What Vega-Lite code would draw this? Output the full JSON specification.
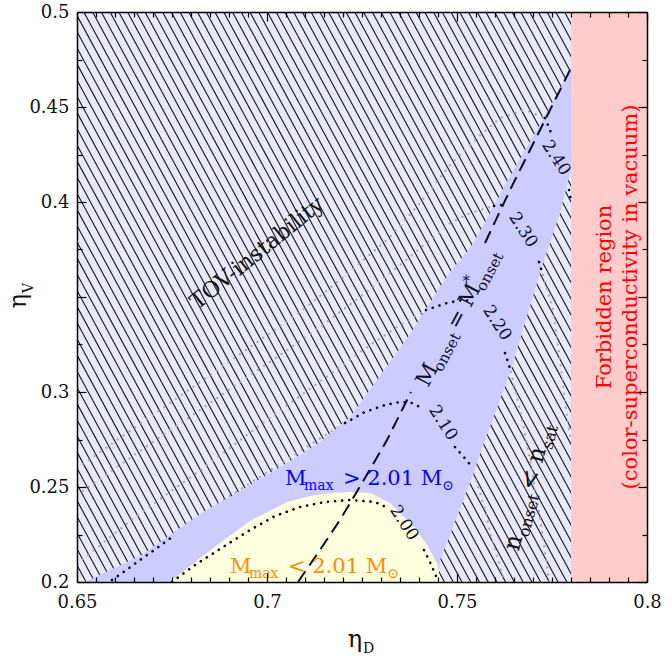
{
"$schema": "https://vega.github.io/schema/vega-lite/v6.json",
"width": 570, "height": 570,
"autosize": {"type": "none"},
"padding": {"left": 77, "top": 12, "right": 25, "bottom": 74},
"background": "white",
"config": {"view": {"fill": "#e9e9fb", "stroke": null}, "font": "DejaVu Serif"},
"resolve": {"axis": {"x": "independent", "y": "independent"}},
"layer": [
{"data": {"values": [
{"a":0.5690,"b":0.6501},{"a":0.5713,"b":0.6524},{"a":0.5736,"b":0.6547},{"a":0.5759,"b":0.6570},{"a":0.5782,"b":0.6593},{"a":0.5805,"b":0.6616},{"a":0.5828,"b":0.6639},{"a":0.5851,"b":0.6662},{"a":0.5874,"b":0.6685},{"a":0.5897,"b":0.6708},
{"a":0.5920,"b":0.6731},{"a":0.5943,"b":0.6754},{"a":0.5966,"b":0.6777},{"a":0.5989,"b":0.6800},{"a":0.6012,"b":0.6823},{"a":0.6035,"b":0.6846},{"a":0.6058,"b":0.6869},{"a":0.6081,"b":0.6892},{"a":0.6104,"b":0.6915},{"a":0.6127,"b":0.6938},
{"a":0.6150,"b":0.6961},{"a":0.6173,"b":0.6984},{"a":0.6196,"b":0.7007},{"a":0.6219,"b":0.7030},{"a":0.6242,"b":0.7053},{"a":0.6265,"b":0.7076},{"a":0.6288,"b":0.7099},{"a":0.6311,"b":0.7122},{"a":0.6334,"b":0.7145},{"a":0.6357,"b":0.7168},
{"a":0.6380,"b":0.7191},{"a":0.6403,"b":0.7214},{"a":0.6426,"b":0.7237},{"a":0.6449,"b":0.7260},{"a":0.6472,"b":0.7283},{"a":0.6495,"b":0.7306},{"a":0.6518,"b":0.7329},{"a":0.6541,"b":0.7352},{"a":0.6564,"b":0.7375},{"a":0.6587,"b":0.7398},
{"a":0.6610,"b":0.7421},{"a":0.6633,"b":0.7444},{"a":0.6656,"b":0.7467},{"a":0.6679,"b":0.7490},{"a":0.6702,"b":0.7513},{"a":0.6725,"b":0.7536},{"a":0.6748,"b":0.7559},{"a":0.6771,"b":0.7582},{"a":0.6794,"b":0.7605},{"a":0.6817,"b":0.7628},
{"a":0.6840,"b":0.7651},{"a":0.6863,"b":0.7674},{"a":0.6886,"b":0.7697},{"a":0.6909,"b":0.7720},{"a":0.6932,"b":0.7743},{"a":0.6955,"b":0.7766},{"a":0.6978,"b":0.7789},{"a":0.7001,"b":0.7812},{"a":0.7024,"b":0.7835},{"a":0.7047,"b":0.7858},
{"a":0.7070,"b":0.7881},{"a":0.7093,"b":0.7904},{"a":0.7116,"b":0.7927},{"a":0.7139,"b":0.7950},{"a":0.7162,"b":0.7973},{"a":0.7185,"b":0.7996},{"a":0.7208,"b":0.8019},{"a":0.7231,"b":0.8042},{"a":0.7254,"b":0.8065},{"a":0.7277,"b":0.8088},
{"a":0.7300,"b":0.8111},{"a":0.7323,"b":0.8134},{"a":0.7346,"b":0.8157},{"a":0.7369,"b":0.8180},{"a":0.7392,"b":0.8203},{"a":0.7415,"b":0.8226},{"a":0.7438,"b":0.8249},{"a":0.7461,"b":0.8272},{"a":0.7484,"b":0.8295},{"a":0.7507,"b":0.8318},
{"a":0.7530,"b":0.8341},{"a":0.7553,"b":0.8364},{"a":0.7576,"b":0.8387},{"a":0.7599,"b":0.8410},{"a":0.7622,"b":0.8433},{"a":0.7645,"b":0.8456},{"a":0.7668,"b":0.8479},{"a":0.7691,"b":0.8502},{"a":0.7714,"b":0.8525},{"a":0.7737,"b":0.8548},
{"a":0.7760,"b":0.8571},{"a":0.7783,"b":0.8594},{"a":0.7806,"b":0.8617}
]},
 "mark": {"type": "rule", "color": "#151515", "strokeWidth": 1.1, "clip": true},
 "encoding": {
  "x": {"field": "a", "type": "quantitative", "scale": {"domain": [0.65, 0.8], "nice": false, "zero": false}, "axis": null},
  "x2": {"field": "b"},
  "y": {"datum": 0.5, "type": "quantitative", "scale": {"domain": [0.2, 0.5], "nice": false, "zero": false}, "axis": null},
  "y2": {"datum": 0.2}
 }
},
{"data": {"values": [
{"c":"g10L","x":0.675,"y":0.22368},{"c":"g10L","x":0.68763,"y":0.24211},{"c":"g10L","x":0.69816,"y":0.25526},{"c":"g10L","x":0.70868,"y":0.26895},{"c":"g10L","x":0.72053,"y":0.28368},
{"c":"g10R","x":0.75395,"y":0.26053},{"c":"g10R","x":0.75526,"y":0.25211},{"c":"g10R","x":0.75737,"y":0.23789},{"c":"g10R","x":0.75921,"y":0.22211},{"c":"g10R","x":0.76184,"y":0.20474},{"c":"g10R","x":0.76263,"y":0.2},
{"c":"g20L","x":0.74184,"y":0.34316},{"c":"g20L","x":0.735,"y":0.33526},{"c":"g20L","x":0.72711,"y":0.32474},{"c":"g20L","x":0.71921,"y":0.31316},{"c":"g20L","x":0.70868,"y":0.29789},{"c":"g20L","x":0.69816,"y":0.28263},{"c":"g20L","x":0.685,"y":0.26263},{"c":"g20L","x":0.67447,"y":0.24737},{"c":"g20L","x":0.66395,"y":0.23211},{"c":"g20L","x":0.65132,"y":0.21158},{"c":"g20L","x":0.65,"y":0.20947},
{"c":"g20R","x":0.76421,"y":0.31053},{"c":"g20R","x":0.76658,"y":0.29053},{"c":"g20R","x":0.76921,"y":0.26421},{"c":"g20R","x":0.77105,"y":0.24316},{"c":"g20R","x":0.77263,"y":0.22368},{"c":"g20R","x":0.77421,"y":0.2},
{"c":"g30L","x":0.75974,"y":0.39789},{"c":"g30L","x":0.75342,"y":0.39421},{"c":"g30L","x":0.74816,"y":0.38895},{"c":"g30L","x":0.74289,"y":0.38},{"c":"g30L","x":0.735,"y":0.36684},{"c":"g30L","x":0.72447,"y":0.35},{"c":"g30L","x":0.71395,"y":0.33421},{"c":"g30L","x":0.70342,"y":0.31947},{"c":"g30L","x":0.69289,"y":0.30526},{"c":"g30L","x":0.68237,"y":0.29053},{"c":"g30L","x":0.67184,"y":0.27632},{"c":"g30L","x":0.66132,"y":0.26158},{"c":"g30L","x":0.65,"y":0.24579},
{"c":"g30R","x":0.77263,"y":0.36158},{"c":"g30R","x":0.77526,"y":0.34316},{"c":"g30R","x":0.77711,"y":0.31684},{"c":"g30R","x":0.77868,"y":0.29053},{"c":"g30R","x":0.78,"y":0.27474},
{"c":"g40L","x":0.77316,"y":0.44421},{"c":"g40L","x":0.76789,"y":0.44842},{"c":"g40L","x":0.76132,"y":0.44421},{"c":"g40L","x":0.75474,"y":0.43263},{"c":"g40L","x":0.74816,"y":0.41947},{"c":"g40L","x":0.74026,"y":0.39947},{"c":"g40L","x":0.73237,"y":0.38158},{"c":"g40L","x":0.72184,"y":0.36316},{"c":"g40L","x":0.70868,"y":0.34211},{"c":"g40L","x":0.69553,"y":0.32368},{"c":"g40L","x":0.68237,"y":0.30526},{"c":"g40L","x":0.66921,"y":0.28684},{"c":"g40L","x":0.65605,"y":0.26842},{"c":"g40L","x":0.65,"y":0.26}
]},
 "mark": {"type": "line", "color": "#a3a3b5", "strokeWidth": 2.2, "strokeDash": [0.1, 7], "strokeCap": "round", "clip": true},
 "encoding": {
  "x": {"field": "x", "type": "quantitative", "scale": {"domain": [0.65, 0.8], "nice": false, "zero": false},
    "axis": {"orient": "top", "values": [0.65,0.655,0.66,0.665,0.67,0.675,0.68,0.685,0.69,0.695,0.7,0.705,0.71,0.715,0.72,0.725,0.73,0.735,0.74,0.745,0.75,0.755,0.76,0.765,0.77,0.775,0.78,0.785,0.79,0.795,0.8],
      "labels": false, "title": null, "grid": false, "zindex": 1, "domain": true, "domainColor": "#000", "domainWidth": 1.5, "tickColor": "#000", "tickWidth": 1.2,
      "tickSize": {"condition": {"test": "abs(datum.value*20 - round(datum.value*20)) < 0.001", "value": -9}, "value": -5}}},
  "y": {"field": "y", "type": "quantitative", "scale": {"domain": [0.2, 0.5], "nice": false, "zero": false},
    "axis": {"orient": "right", "values": [0.2,0.225,0.25,0.275,0.3,0.325,0.35,0.375,0.4,0.425,0.45,0.475,0.5],
      "labels": false, "title": null, "grid": false, "zindex": 1, "domain": true, "domainColor": "#000", "domainWidth": 1.5, "tickColor": "#000", "tickWidth": 1.2,
      "tickSize": {"condition": {"test": "abs(datum.value*20 - round(datum.value*20)) < 0.001", "value": -9}, "value": -5}}},
  "detail": {"field": "c"}
 }
},
{"data": {"values": [
{"x":0.65211,"top":0.2,"bot":0.2},{"x":0.65868,"top":0.20632,"bot":0.2},{"x":0.66658,"top":0.21368,"bot":0.2},{"x":0.67447,"top":0.22474,"bot":0.2},{"x":0.68237,"top":0.23579,"bot":0.2},{"x":0.69026,"top":0.24474,"bot":0.2},{"x":0.69816,"top":0.25421,"bot":0.2},{"x":0.70605,"top":0.26368,"bot":0.2},{"x":0.71395,"top":0.27368,"bot":0.2},{"x":0.72184,"top":0.28684,"bot":0.2},{"x":0.72974,"top":0.30842,"bot":0.2},{"x":0.73763,"top":0.33053,"bot":0.2},{"x":0.745,"top":0.35368,"bot":0.2},{"x":0.74553,"top":0.35526,"bot":0.21158},{"x":0.74816,"top":0.36316,"bot":0.22474},{"x":0.75342,"top":0.37579,"bot":0.25211},{"x":0.75737,"top":0.38947,"bot":0.27474},{"x":0.76395,"top":0.41368,"bot":0.31},{"x":0.77184,"top":0.44105,"bot":0.36263},{"x":0.77711,"top":0.45947,"bot":0.39421},{"x":0.78,"top":0.47053,"bot":0.41684}
]},
 "mark": {"type": "area", "color": "#ccccff", "opacity": 1, "clip": true},
 "encoding": {
  "x": {"field": "x", "type": "quantitative", "scale": {"domain": [0.65, 0.8], "nice": false, "zero": false},
    "axis": {"orient": "bottom", "values": [0.65,0.655,0.66,0.665,0.67,0.675,0.68,0.685,0.69,0.695,0.7,0.705,0.71,0.715,0.72,0.725,0.73,0.735,0.74,0.745,0.75,0.755,0.76,0.765,0.77,0.775,0.78,0.785,0.79,0.795,0.8],
      "format": "~g", "labelExpr": "abs(datum.value*20 - round(datum.value*20)) < 0.001 ? datum.label : ''",
      "labelFont": "DejaVu Serif", "labelFontSize": 18, "labelColor": "#111", "labelPadding": 20, "labelFlush": false, "labelOverlap": false, "labelBaseline": "top",
      "title": null, "grid": false, "zindex": 1, "domain": true, "domainColor": "#000", "domainWidth": 1.5, "tickColor": "#000", "tickWidth": 1.2,
      "tickSize": {"condition": {"test": "abs(datum.value*20 - round(datum.value*20)) < 0.001", "value": -9}, "value": -5}}},
  "y": {"field": "top", "type": "quantitative", "scale": {"domain": [0.2, 0.5], "nice": false, "zero": false},
    "axis": {"orient": "left", "values": [0.2,0.225,0.25,0.275,0.3,0.325,0.35,0.375,0.4,0.425,0.45,0.475,0.5],
      "format": "~g", "labelExpr": "abs(datum.value*20 - round(datum.value*20)) < 0.001 && abs(datum.value - 0.35) > 0.001 ? datum.label : ''",
      "labelFont": "DejaVu Serif", "labelFontSize": 18, "labelColor": "#111", "labelPadding": 17, "labelFlush": false, "labelOverlap": false,
      "title": null, "grid": false, "zindex": 1, "domain": true, "domainColor": "#000", "domainWidth": 1.5, "tickColor": "#000", "tickWidth": 1.2,
      "tickSize": {"condition": {"test": "abs(datum.value*20 - round(datum.value*20)) < 0.001", "value": -9}, "value": -5}}},
  "y2": {"field": "bot"}
 }
},
{"data": {"values": [
{"x":0.67447,"top":0.2},{"x":0.67711,"top":0.20421},{"x":0.68237,"top":0.21263},{"x":0.68763,"top":0.22053},{"x":0.69553,"top":0.23211},{"x":0.70526,"top":0.24211},{"x":0.71132,"top":0.24526},{"x":0.71658,"top":0.24684},{"x":0.72184,"top":0.24737},{"x":0.72711,"top":0.24684},{"x":0.73237,"top":0.24158},{"x":0.735,"top":0.23632},{"x":0.73895,"top":0.22842},{"x":0.74211,"top":0.21947},{"x":0.74474,"top":0.21},{"x":0.74579,"top":0.2}
]},
 "mark": {"type": "area", "color": "#ffffe0", "opacity": 1, "clip": true},
 "encoding": {
  "x": {"field": "x", "type": "quantitative", "scale": {"domain": [0.65, 0.8], "nice": false, "zero": false}, "axis": null},
  "y": {"field": "top", "type": "quantitative", "scale": {"domain": [0.2, 0.5], "nice": false, "zero": false}, "axis": null},
  "y2": {"datum": 0.2}
 }
},
{"data": {"values": [{"x1": 0.78, "x2": 0.8, "y1": 0.2, "y2": 0.5}]},
 "mark": {"type": "rect", "color": "#ffcccc", "opacity": 1, "clip": true},
 "encoding": {
  "x": {"field": "x1", "type": "quantitative", "scale": {"domain": [0.65, 0.8], "nice": false, "zero": false}, "axis": null},
  "x2": {"field": "x2"},
  "y": {"field": "y1", "type": "quantitative", "scale": {"domain": [0.2, 0.5], "nice": false, "zero": false}, "axis": null},
  "y2": {"field": "y2"}
 }
},
{"data": {"values": [
{"c":"b00a","x":0.675,"y":0.2},{"c":"b00a","x":0.68105,"y":0.20895},{"c":"b00a","x":0.68763,"y":0.21737},{"c":"b00a","x":0.69553,"y":0.22737},{"c":"b00a","x":0.70211,"y":0.23474},{"c":"b00a","x":0.70868,"y":0.23947},{"c":"b00a","x":0.71526,"y":0.24211},{"c":"b00a","x":0.72184,"y":0.24316},{"c":"b00a","x":0.72842,"y":0.24211},{"c":"b00a","x":0.73184,"y":0.23895},
{"c":"b00b","x":0.74132,"y":0.21684},{"c":"b00b","x":0.74289,"y":0.21053},{"c":"b00b","x":0.74447,"y":0.20316},{"c":"b00b","x":0.745,"y":0.2},
{"c":"b10a","x":0.65921,"y":0.20105},{"c":"b10a","x":0.66263,"y":0.20579},{"c":"b10a","x":0.66658,"y":0.21158},{"c":"b10a","x":0.67105,"y":0.21789},{"c":"b10a","x":0.675,"y":0.22368},
{"c":"b10b","x":0.72053,"y":0.28368},{"c":"b10b","x":0.72579,"y":0.28947},{"c":"b10b","x":0.73105,"y":0.29316},{"c":"b10b","x":0.735,"y":0.29474},{"c":"b10b","x":0.73816,"y":0.29421},{"c":"b10b","x":0.74026,"y":0.29211},
{"c":"b10c","x":0.74947,"y":0.27105},{"c":"b10c","x":0.75158,"y":0.26632},{"c":"b10c","x":0.75395,"y":0.26053},
{"c":"b20a","x":0.74184,"y":0.34316},{"c":"b20a","x":0.74421,"y":0.34474},{"c":"b20a","x":0.74737,"y":0.34684},{"c":"b20a","x":0.75158,"y":0.34842},{"c":"b20a","x":0.75395,"y":0.34789},
{"c":"b20b","x":0.76263,"y":0.32053},{"c":"b20b","x":0.76342,"y":0.31579},{"c":"b20b","x":0.76421,"y":0.31053},
{"c":"b30a","x":0.75974,"y":0.39789},{"c":"b30a","x":0.76184,"y":0.39842},
{"c":"b30b","x":0.77158,"y":0.36842},{"c":"b30b","x":0.77263,"y":0.36158},
{"c":"b40a","x":0.77316,"y":0.44421},{"c":"b40a","x":0.77395,"y":0.44053},{"c":"b40a","x":0.77474,"y":0.43632},
{"c":"b40b","x":0.77947,"y":0.40632},{"c":"b40b","x":0.78,"y":0.40105}
]},
 "mark": {"type": "line", "color": "#05051e", "strokeWidth": 2.6, "strokeDash": [0.1, 7], "strokeCap": "round", "clip": true},
 "encoding": {
  "x": {"field": "x", "type": "quantitative", "scale": {"domain": [0.65, 0.8], "nice": false, "zero": false}, "axis": null},
  "y": {"field": "y", "type": "quantitative", "scale": {"domain": [0.2, 0.5], "nice": false, "zero": false}, "axis": null},
  "detail": {"field": "c"}
 }
},
{"data": {"values": [
{"s":"a","x":0.70816,"y":0.2},{"s":"a","x":0.71395,"y":0.21684},{"s":"a","x":0.71921,"y":0.23263},{"s":"a","x":0.72579,"y":0.25474},{"s":"a","x":0.73158,"y":0.27474},{"s":"a","x":0.73789,"y":0.3},
{"s":"b","x":0.75737,"y":0.37842},{"s":"b","x":0.76395,"y":0.40632},{"s":"b","x":0.77184,"y":0.43789},{"s":"b","x":0.78,"y":0.4705}
]},
 "mark": {"type": "line", "color": "#0a0a25", "strokeWidth": 2, "strokeDash": [13, 7], "clip": true},
 "encoding": {
  "x": {"field": "x", "type": "quantitative", "scale": {"domain": [0.65, 0.8], "nice": false, "zero": false}, "axis": null},
  "y": {"field": "y", "type": "quantitative", "scale": {"domain": [0.2, 0.5], "nice": false, "zero": false}, "axis": null},
  "detail": {"field": "s"}
 }
},
{"data": {"values": [
{"t":"2.00","x":0.73605,"y":0.23105},{"t":"2.10","x":0.74632,"y":0.28368},{"t":"2.20","x":0.76053,"y":0.33632},{"t":"2.30","x":0.76737,"y":0.38526},{"t":"2.40","x":0.77605,"y":0.42316}
]},
 "mark": {"type": "text", "font": "DejaVu Serif", "fontSize": 17, "angle": 57, "align": "center", "baseline": "middle", "color": "#0d0d2b"},
 "encoding": {
  "x": {"field": "x", "type": "quantitative", "scale": {"domain": [0.65, 0.8], "nice": false, "zero": false}, "axis": null},
  "y": {"field": "y", "type": "quantitative", "scale": {"domain": [0.2, 0.5], "nice": false, "zero": false}, "axis": null},
  "text": {"field": "t"}
 }
},
{"data": {"values": [{"t":"TOV-instability","x":0.69737,"y":0.37316}]},
 "mark": {"type": "text", "font": "DejaVu Serif", "fontSize": 22, "angle": 321, "align": "center", "baseline": "middle", "color": "#111"},
 "encoding": {
  "x": {"field": "x", "type": "quantitative", "scale": {"domain": [0.65, 0.8], "nice": false, "zero": false}, "axis": null},
  "y": {"field": "y", "type": "quantitative", "scale": {"domain": [0.2, 0.5], "nice": false, "zero": false}, "axis": null},
  "text": {"field": "t"}
 }
},
{"data": {"values": [{"t":"M","x":0.70474,"y":0.25105}]},
 "mark": {"type": "text", "font": "DejaVu Serif", "fontSize": 21, "align": "left", "baseline": "alphabetic", "color": "#0000ff"},
 "encoding": {"x": {"field": "x", "type": "quantitative", "scale": {"domain": [0.65, 0.8], "nice": false, "zero": false}, "axis": null}, "y": {"field": "y", "type": "quantitative", "scale": {"domain": [0.2, 0.5], "nice": false, "zero": false}, "axis": null}, "text": {"field": "t"}}
},
{"data": {"values": [{"t":"max","x":0.70474,"y":0.25105}]},
 "mark": {"type": "text", "font": "DejaVu Serif", "fontSize": 14, "align": "left", "baseline": "alphabetic", "color": "#0000ff", "dx": 19, "dy": 5},
 "encoding": {"x": {"field": "x", "type": "quantitative", "scale": {"domain": [0.65, 0.8], "nice": false, "zero": false}, "axis": null}, "y": {"field": "y", "type": "quantitative", "scale": {"domain": [0.2, 0.5], "nice": false, "zero": false}, "axis": null}, "text": {"field": "t"}}
},
{"data": {"values": [{"t":"> 2.01 M","x":0.70474,"y":0.25105}]},
 "mark": {"type": "text", "font": "DejaVu Serif", "fontSize": 21, "align": "left", "baseline": "alphabetic", "color": "#0000ff", "dx": 58},
 "encoding": {"x": {"field": "x", "type": "quantitative", "scale": {"domain": [0.65, 0.8], "nice": false, "zero": false}, "axis": null}, "y": {"field": "y", "type": "quantitative", "scale": {"domain": [0.2, 0.5], "nice": false, "zero": false}, "axis": null}, "text": {"field": "t"}}
},
{"data": {"values": [{"t":"⊙","x":0.70474,"y":0.25105}]},
 "mark": {"type": "text", "font": "DejaVu Serif", "fontSize": 14, "align": "left", "baseline": "alphabetic", "color": "#0000ff", "dx": 157, "dy": 5},
 "encoding": {"x": {"field": "x", "type": "quantitative", "scale": {"domain": [0.65, 0.8], "nice": false, "zero": false}, "axis": null}, "y": {"field": "y", "type": "quantitative", "scale": {"domain": [0.2, 0.5], "nice": false, "zero": false}, "axis": null}, "text": {"field": "t"}}
},
{"data": {"values": [{"t":"M","x":0.69026,"y":0.20474}]},
 "mark": {"type": "text", "font": "DejaVu Serif", "fontSize": 21, "align": "left", "baseline": "alphabetic", "color": "#ff8c00"},
 "encoding": {"x": {"field": "x", "type": "quantitative", "scale": {"domain": [0.65, 0.8], "nice": false, "zero": false}, "axis": null}, "y": {"field": "y", "type": "quantitative", "scale": {"domain": [0.2, 0.5], "nice": false, "zero": false}, "axis": null}, "text": {"field": "t"}}
},
{"data": {"values": [{"t":"max","x":0.69026,"y":0.20474}]},
 "mark": {"type": "text", "font": "DejaVu Serif", "fontSize": 14, "align": "left", "baseline": "alphabetic", "color": "#ff8c00", "dx": 19, "dy": 5},
 "encoding": {"x": {"field": "x", "type": "quantitative", "scale": {"domain": [0.65, 0.8], "nice": false, "zero": false}, "axis": null}, "y": {"field": "y", "type": "quantitative", "scale": {"domain": [0.2, 0.5], "nice": false, "zero": false}, "axis": null}, "text": {"field": "t"}}
},
{"data": {"values": [{"t":"< 2.01 M","x":0.69026,"y":0.20474}]},
 "mark": {"type": "text", "font": "DejaVu Serif", "fontSize": 21, "align": "left", "baseline": "alphabetic", "color": "#ff8c00", "dx": 58},
 "encoding": {"x": {"field": "x", "type": "quantitative", "scale": {"domain": [0.65, 0.8], "nice": false, "zero": false}, "axis": null}, "y": {"field": "y", "type": "quantitative", "scale": {"domain": [0.2, 0.5], "nice": false, "zero": false}, "axis": null}, "text": {"field": "t"}}
},
{"data": {"values": [{"t":"⊙","x":0.69026,"y":0.20474}]},
 "mark": {"type": "text", "font": "DejaVu Serif", "fontSize": 14, "align": "left", "baseline": "alphabetic", "color": "#ff8c00", "dx": 157, "dy": 5},
 "encoding": {"x": {"field": "x", "type": "quantitative", "scale": {"domain": [0.65, 0.8], "nice": false, "zero": false}, "axis": null}, "y": {"field": "y", "type": "quantitative", "scale": {"domain": [0.2, 0.5], "nice": false, "zero": false}, "axis": null}, "text": {"field": "t"}}
},
{"data": {"values": [{"t":"M","x":0.74237,"y":0.30211}]},
 "mark": {"type": "text", "font": "DejaVu Serif", "fontSize": 22, "angle": 298, "align": "left", "baseline": "alphabetic", "color": "#0d0d2b"},
 "encoding": {"x": {"field": "x", "type": "quantitative", "scale": {"domain": [0.65, 0.8], "nice": false, "zero": false}, "axis": null}, "y": {"field": "y", "type": "quantitative", "scale": {"domain": [0.2, 0.5], "nice": false, "zero": false}, "axis": null}, "text": {"field": "t"}}
},
{"data": {"values": [{"t":"onset","x":0.74237,"y":0.30211}]},
 "mark": {"type": "text", "font": "DejaVu Serif", "fontSize": 15, "angle": 298, "align": "left", "baseline": "alphabetic", "color": "#0d0d2b", "dx": 20, "dy": 5},
 "encoding": {"x": {"field": "x", "type": "quantitative", "scale": {"domain": [0.65, 0.8], "nice": false, "zero": false}, "axis": null}, "y": {"field": "y", "type": "quantitative", "scale": {"domain": [0.2, 0.5], "nice": false, "zero": false}, "axis": null}, "text": {"field": "t"}}
},
{"data": {"values": [{"t":"= M","x":0.74237,"y":0.30211}]},
 "mark": {"type": "text", "font": "DejaVu Serif", "fontSize": 22, "angle": 298, "align": "left", "baseline": "alphabetic", "color": "#0d0d2b", "dx": 65},
 "encoding": {"x": {"field": "x", "type": "quantitative", "scale": {"domain": [0.65, 0.8], "nice": false, "zero": false}, "axis": null}, "y": {"field": "y", "type": "quantitative", "scale": {"domain": [0.2, 0.5], "nice": false, "zero": false}, "axis": null}, "text": {"field": "t"}}
},
{"data": {"values": [{"t":"*","x":0.74237,"y":0.30211}]},
 "mark": {"type": "text", "font": "DejaVu Serif", "fontSize": 15, "angle": 298, "align": "left", "baseline": "alphabetic", "color": "#0d0d2b", "dx": 111, "dy": -10},
 "encoding": {"x": {"field": "x", "type": "quantitative", "scale": {"domain": [0.65, 0.8], "nice": false, "zero": false}, "axis": null}, "y": {"field": "y", "type": "quantitative", "scale": {"domain": [0.2, 0.5], "nice": false, "zero": false}, "axis": null}, "text": {"field": "t"}}
},
{"data": {"values": [{"t":"onset","x":0.74237,"y":0.30211}]},
 "mark": {"type": "text", "font": "DejaVu Serif", "fontSize": 15, "angle": 298, "align": "left", "baseline": "alphabetic", "color": "#0d0d2b", "dx": 111, "dy": 5},
 "encoding": {"x": {"field": "x", "type": "quantitative", "scale": {"domain": [0.65, 0.8], "nice": false, "zero": false}, "axis": null}, "y": {"field": "y", "type": "quantitative", "scale": {"domain": [0.2, 0.5], "nice": false, "zero": false}, "axis": null}, "text": {"field": "t"}}
},
{"data": {"values": [{"t":"n","x":0.76616,"y":0.21579}]},
 "mark": {"type": "text", "font": "DejaVu Serif", "fontSize": 24, "angle": 285, "align": "left", "baseline": "alphabetic", "color": "#111"},
 "encoding": {"x": {"field": "x", "type": "quantitative", "scale": {"domain": [0.65, 0.8], "nice": false, "zero": false}, "axis": null}, "y": {"field": "y", "type": "quantitative", "scale": {"domain": [0.2, 0.5], "nice": false, "zero": false}, "axis": null}, "text": {"field": "t"}}
},
{"data": {"values": [{"t":"onset","x":0.76616,"y":0.21579}]},
 "mark": {"type": "text", "font": "DejaVu Serif", "fontSize": 16, "angle": 285, "align": "left", "baseline": "alphabetic", "color": "#111", "dx": 16, "dy": 6},
 "encoding": {"x": {"field": "x", "type": "quantitative", "scale": {"domain": [0.65, 0.8], "nice": false, "zero": false}, "axis": null}, "y": {"field": "y", "type": "quantitative", "scale": {"domain": [0.2, 0.5], "nice": false, "zero": false}, "axis": null}, "text": {"field": "t"}}
},
{"data": {"values": [{"t":"< n","x":0.76616,"y":0.21579}]},
 "mark": {"type": "text", "font": "DejaVu Serif", "fontSize": 24, "angle": 285, "align": "left", "baseline": "alphabetic", "color": "#111", "dx": 63},
 "encoding": {"x": {"field": "x", "type": "quantitative", "scale": {"domain": [0.65, 0.8], "nice": false, "zero": false}, "axis": null}, "y": {"field": "y", "type": "quantitative", "scale": {"domain": [0.2, 0.5], "nice": false, "zero": false}, "axis": null}, "text": {"field": "t"}}
},
{"data": {"values": [{"t":"sat","x":0.76616,"y":0.21579}]},
 "mark": {"type": "text", "font": "DejaVu Serif", "fontSize": 16, "angle": 285, "align": "left", "baseline": "alphabetic", "color": "#111", "dx": 107, "dy": 6},
 "encoding": {"x": {"field": "x", "type": "quantitative", "scale": {"domain": [0.65, 0.8], "nice": false, "zero": false}, "axis": null}, "y": {"field": "y", "type": "quantitative", "scale": {"domain": [0.2, 0.5], "nice": false, "zero": false}, "axis": null}, "text": {"field": "t"}}
},
{"data": {"values": [{"t":"Forbidden region","x":0.78895,"y":0.35},{"t":"(color-superconductivity in vacuum)","x":0.79579,"y":0.35}]},
 "mark": {"type": "text", "font": "DejaVu Serif", "fontSize": 21, "angle": 270, "align": "center", "baseline": "middle", "color": "#ff0000"},
 "encoding": {"x": {"field": "x", "type": "quantitative", "scale": {"domain": [0.65, 0.8], "nice": false, "zero": false}, "axis": null}, "y": {"field": "y", "type": "quantitative", "scale": {"domain": [0.2, 0.5], "nice": false, "zero": false}, "axis": null}, "text": {"field": "t"}}
},
{"data": {"values": [{"t":"η","x":0.725,"y":0.2}]},
 "mark": {"type": "text", "font": "DejaVu Serif", "fontSize": 24, "align": "center", "baseline": "alphabetic", "color": "#111", "dx": -7, "dy": 65},
 "encoding": {"x": {"field": "x", "type": "quantitative", "scale": {"domain": [0.65, 0.8], "nice": false, "zero": false}, "axis": null}, "y": {"field": "y", "type": "quantitative", "scale": {"domain": [0.2, 0.5], "nice": false, "zero": false}, "axis": null}, "text": {"field": "t"}}
},
{"data": {"values": [{"t":"D","x":0.725,"y":0.2}]},
 "mark": {"type": "text", "font": "DejaVu Serif", "fontSize": 14, "align": "left", "baseline": "alphabetic", "color": "#111", "dx": 1, "dy": 71},
 "encoding": {"x": {"field": "x", "type": "quantitative", "scale": {"domain": [0.65, 0.8], "nice": false, "zero": false}, "axis": null}, "y": {"field": "y", "type": "quantitative", "scale": {"domain": [0.2, 0.5], "nice": false, "zero": false}, "axis": null}, "text": {"field": "t"}}
},
{"data": {"values": [{"t":"η","x":0.65,"y":0.35}]},
 "mark": {"type": "text", "font": "DejaVu Serif", "fontSize": 24, "angle": 270, "align": "center", "baseline": "alphabetic", "color": "#111", "dx": -4, "dy": -51},
 "encoding": {"x": {"field": "x", "type": "quantitative", "scale": {"domain": [0.65, 0.8], "nice": false, "zero": false}, "axis": null}, "y": {"field": "y", "type": "quantitative", "scale": {"domain": [0.2, 0.5], "nice": false, "zero": false}, "axis": null}, "text": {"field": "t"}}
},
{"data": {"values": [{"t":"V","x":0.65,"y":0.35}]},
 "mark": {"type": "text", "font": "DejaVu Serif", "fontSize": 14, "angle": 270, "align": "left", "baseline": "alphabetic", "color": "#111", "dx": 4, "dy": -44},
 "encoding": {"x": {"field": "x", "type": "quantitative", "scale": {"domain": [0.65, 0.8], "nice": false, "zero": false}, "axis": null}, "y": {"field": "y", "type": "quantitative", "scale": {"domain": [0.2, 0.5], "nice": false, "zero": false}, "axis": null}, "text": {"field": "t"}}
}
]
}
